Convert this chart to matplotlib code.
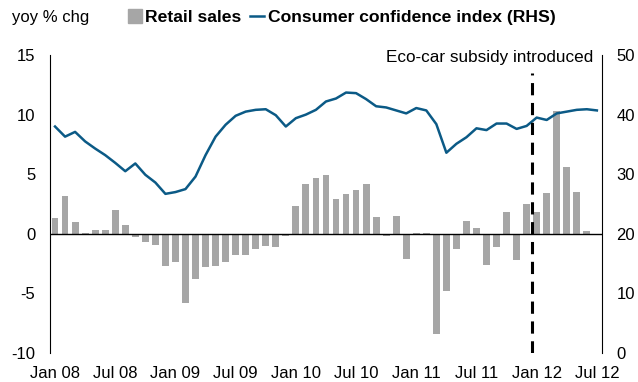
import matplotlib
matplotlib.use("Agg")
import matplotlib.pyplot as plt
from matplotlib.patches import Patch
from matplotlib.lines import Line2D

plt.rcParams['font.family'] = ['Liberation Sans', 'DejaVu Sans']
plt.rcParams['axes.unicode_minus'] = False

# monthly, Jan 08 .. Jul 12
tick_labels = ['Jan 08', 'Jul 08', 'Jan 09', 'Jul 09', 'Jan 10', 'Jul 10',
               'Jan 11', 'Jul 11', 'Jan 12', 'Jul 12']

# retail sales, yoy % chg (Jan 08 .. Jun 12)
retail_sales = [1.3, 3.2, 1.0, 0.1, 0.3, 0.3, 2.0, 0.7, -0.3, -0.7, -0.9, -2.7,
                -2.4, -5.8, -3.8, -2.8, -2.7, -2.4, -1.8, -1.8, -1.3, -1.0, -1.1, -0.2,
                2.3, 4.2, 4.7, 4.9, 2.9, 3.3, 3.7, 4.2, 1.4, -0.2, 1.5, -2.1,
                0.1, 0.1, -8.4, -4.8, -1.3, 1.1, 0.5, -2.6, -1.1, 1.8, -2.2, 2.5,
                1.8, 3.4, 10.3, 5.6, 3.5, 0.2]

# consumer confidence index, RHS (Jan 08 .. Jul 12)
confidence = [38.0, 36.3, 37.1, 35.5, 34.3, 33.2, 31.9, 30.5, 31.8, 29.9, 28.6, 26.7,
              27.0, 27.5, 29.6, 33.2, 36.3, 38.3, 39.8, 40.5, 40.8, 40.9, 39.9, 38.0,
              39.4, 40.0, 40.8, 42.2, 42.7, 43.7, 43.6, 42.6, 41.4, 41.2, 40.7, 40.2,
              41.1, 40.7, 38.4, 33.6, 35.1, 36.2, 37.7, 37.4, 38.5, 38.5, 37.6, 38.1,
              39.5, 39.1, 40.2, 40.5, 40.8, 40.9, 40.7]

subsidy_at = 47.5  # between Dec 11 and Jan 12

bar_col = '#a6a6a6'
line_col = '#0b5a86'
fs = 12

fig = plt.figure(figsize=(6.38, 3.82), dpi=100)
ax = fig.add_axes([0.0784, 0.076, 0.865, 0.780])
ax2 = ax.twinx()

ax.bar(range(len(retail_sales)), retail_sales, width=0.68, color=bar_col, zorder=2)
ax.axhline(0, color='black', lw=1, zorder=3)
ax.set_xlim(-0.5, len(confidence) - 0.5)
ax.set_ylim(-10, 15)
ax.set_yticks([-10, -5, 0, 5, 10, 15])
ax.set_xticks(range(0, len(confidence), 6))
ax.set_xticklabels(tick_labels)

ax2.plot(range(len(confidence)), confidence, color=line_col, lw=1.8, zorder=3)
ax2.set_ylim(0, 50)
ax2.set_yticks([0, 10, 20, 30, 40, 50])
ax2.plot([subsidy_at, subsidy_at], [0, 47], color='black', lw=2.2,
         dashes=(4, 2.5), zorder=4)
ax2.text(53.6, 49.6, 'Eco-car subsidy introduced', ha='right', va='center',
         fontsize=12.3)

for a in (ax, ax2):
    for side in ('top', 'bottom'):
        a.spines[side].set_visible(False)
    a.tick_params(length=0, labelsize=fs)
ax.spines['right'].set_visible(False)
ax2.spines['left'].set_visible(False)
ax.tick_params(axis='y', pad=10.5)
ax2.tick_params(axis='y', pad=10.5)
ax.tick_params(axis='x', pad=9.5)

fig.text(0.019, 0.955, 'yoy % chg', fontsize=fs, va='center')

handles = [Patch(color=bar_col), Line2D([], [], color=line_col, lw=1.8)]
fig.legend(handles, ['Retail sales', 'Consumer confidence index (RHS)'],
           loc='center left', bbox_to_anchor=(0.2, 0.955), ncol=2, frameon=False,
           prop={'weight': 'bold', 'size': 12.6}, handlelength=0.8,
           handleheight=0.8, handletextpad=0.2, columnspacing=0.5,
           borderpad=0, borderaxespad=0)

fig.savefig('out.png', dpi=100)
